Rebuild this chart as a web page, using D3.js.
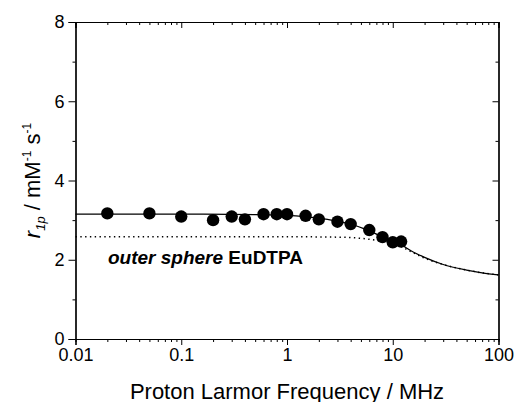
<!DOCTYPE html>
<html>
<head>
<meta charset="utf-8">
<script src="https://cdn.jsdelivr.net/npm/d3@7"></script>
<style>
  body { margin: 0; background: #fff; }
  svg text { font-family: "Liberation Sans", Arial, Helvetica, sans-serif; }
</style>
</head>
<body>
<script>
    var w = 516; // canvas width
    var h = 402; // canvas height

    // measured relaxivity points (frequency in MHz, r1p in mM-1 s-1)
    var freqs = [0.02, 0.05, 0.1, 0.2, 0.3, 0.4, 0.6, 0.8, 1, 1.5, 2, 3, 4, 6, 8, 10, 12];
    var r1p   = [3.17, 3.17, 3.09, 3.00, 3.09, 3.02, 3.15, 3.15, 3.15, 3.11, 3.02, 2.96, 2.90, 2.75, 2.57, 2.44, 2.46];

    // fitted total curve
    var fitFreqs = [0.01, 0.1, 0.5, 1, 2, 3, 4, 6, 8, 10, 12, 15, 20, 30, 50, 70, 100];
    var fitR     = [3.15, 3.15, 3.14, 3.12, 3.05, 2.97, 2.90, 2.73, 2.58, 2.48, 2.38, 2.22, 2.06, 1.88, 1.74, 1.67, 1.62];

    // outer sphere contribution (dotted)
    var osFreqs = [0.01, 0.1, 1, 3, 5, 8, 12, 15, 20, 30, 50, 70, 100];
    var osR     = [2.58, 2.58, 2.58, 2.57, 2.54, 2.46, 2.33, 2.20, 2.04, 1.88, 1.74, 1.67, 1.62];

    var xMajor = [0.01, 0.1, 1, 10, 100];
    var xMinor = [];
    [0.01, 0.1, 1, 10].forEach(function(d) { for (var k = 2; k <= 9; k++) xMinor.push(d * k); });
    var yMajor = [0, 2, 4, 6, 8];
    var yMinor = [1, 3, 5, 7];

    var pLeft = 75.5, pRight = 498.5, pTop = 22, pBottom = 339;

    var xScale = d3.scaleLog().domain([0.01, 100]).range([pLeft, pRight]);
    var yScale = d3.scaleLinear().domain([0, 8]).range([pBottom, pTop]);

    var svg = d3.select("body").append("svg")
        .attr("width", w)
        .attr("height", h);

    //axes: outward ticks bottom/left, inward mirrored ticks top/right
    function styleAxis(g) {
        g.select(".domain").attr("stroke", "#000").attr("stroke-width", 1.2);
        g.selectAll(".tick line").attr("stroke", "#000").attr("stroke-width", 1);
        g.selectAll(".tick text").attr("font-size", "18px").attr("fill", "#000")
            .attr("font-family", "'Liberation Sans', Arial, sans-serif");
    }
    var fmt = function(d) { return d >= 1 ? d3.format("d")(d) : String(d); };

    svg.append("g").attr("transform", "translate(0," + pBottom + ")")
        .call(d3.axisBottom(xScale).tickValues(xMinor).tickSize(3).tickFormat(""))
        .call(styleAxis);
    svg.append("g").attr("transform", "translate(0," + pBottom + ")")
        .call(d3.axisBottom(xScale).tickValues(xMajor).tickSize(6).tickPadding(3).tickFormat(fmt))
        .call(styleAxis);
    svg.append("g").attr("transform", "translate(0," + pTop + ")")
        .call(d3.axisTop(xScale).tickValues(xMinor).tickSize(-3).tickFormat(""))
        .call(styleAxis);
    svg.append("g").attr("transform", "translate(0," + pTop + ")")
        .call(d3.axisTop(xScale).tickValues(xMajor).tickSize(-6).tickFormat(""))
        .call(styleAxis);

    svg.append("g").attr("transform", "translate(" + pLeft + ",0)")
        .call(d3.axisLeft(yScale).tickValues(yMinor).tickSize(3).tickFormat(""))
        .call(styleAxis);
    svg.append("g").attr("transform", "translate(" + pLeft + ",0)")
        .call(d3.axisLeft(yScale).tickValues(yMajor).tickSize(7).tickPadding(4).tickFormat(d3.format("d")))
        .call(styleAxis);
    svg.append("g").attr("transform", "translate(" + pRight + ",0)")
        .call(d3.axisRight(yScale).tickValues(yMinor).tickSize(-3).tickFormat(""))
        .call(styleAxis);
    svg.append("g").attr("transform", "translate(" + pRight + ",0)")
        .call(d3.axisRight(yScale).tickValues(yMajor).tickSize(-6).tickFormat(""))
        .call(styleAxis);

    var line = d3.line()
        .x(function(d) { return xScale(d[0]); })
        .y(function(d) { return yScale(d[1]); })
        .curve(d3.curveMonotoneX);

    // outer sphere dotted curve
    svg.append("path")
        .datum(d3.zip(osFreqs, osR))
        .attr("d", line)
        .attr("fill", "none")
        .attr("stroke", "#000")
        .attr("stroke-width", 1.5)
        .attr("stroke-dasharray", "1.4,3.4");

    // total fit
    svg.append("path")
        .datum(d3.zip(fitFreqs, fitR))
        .attr("d", line)
        .attr("fill", "none")
        .attr("stroke", "#000")
        .attr("stroke-width", 1.3);

    // data points
    svg.selectAll("circle")
        .data(d3.zip(freqs, r1p))
        .enter()
        .append("circle")
        .attr("cx", function(d) { return xScale(d[0]); })
        .attr("cy", function(d) { return yScale(d[1]); })
        .attr("r", 6.2)
        .attr("fill", "#000");

    // annotation
    var note = svg.append("text")
        .attr("x", 108)
        .attr("y", 264)
        .attr("font-size", "19px")
        .attr("font-weight", "bold");
    note.append("tspan").attr("font-style", "italic").text("outer sphere");
    note.append("tspan").text(" EuDTPA");

    // x-axis label
    svg.append("text")
        .attr("text-anchor", "middle")
        .attr("x", (pLeft + pRight) / 2)
        .attr("y", 399)
        .attr("font-size", "22px")
        .text("Proton Larmor Frequency / MHz");

    // y-axis label
    var yl = svg.append("text")
        .attr("text-anchor", "middle")
        .attr("transform", "translate(40," + ((pTop + pBottom) / 2) + ") rotate(-90)")
        .attr("font-size", "22px");
    yl.append("tspan").attr("font-style", "italic").text("r");
    yl.append("tspan").attr("font-style", "italic").attr("font-size", "13px").attr("dy", 5).text("1p");
    yl.append("tspan").attr("dy", -5).text(" / mM");
    yl.append("tspan").attr("font-size", "12px").attr("dy", -9).text("-1");
    yl.append("tspan").attr("dy", 9).text(" s");
    yl.append("tspan").attr("font-size", "12px").attr("dy", -9).text("-1");
</script>
</body>
</html>
